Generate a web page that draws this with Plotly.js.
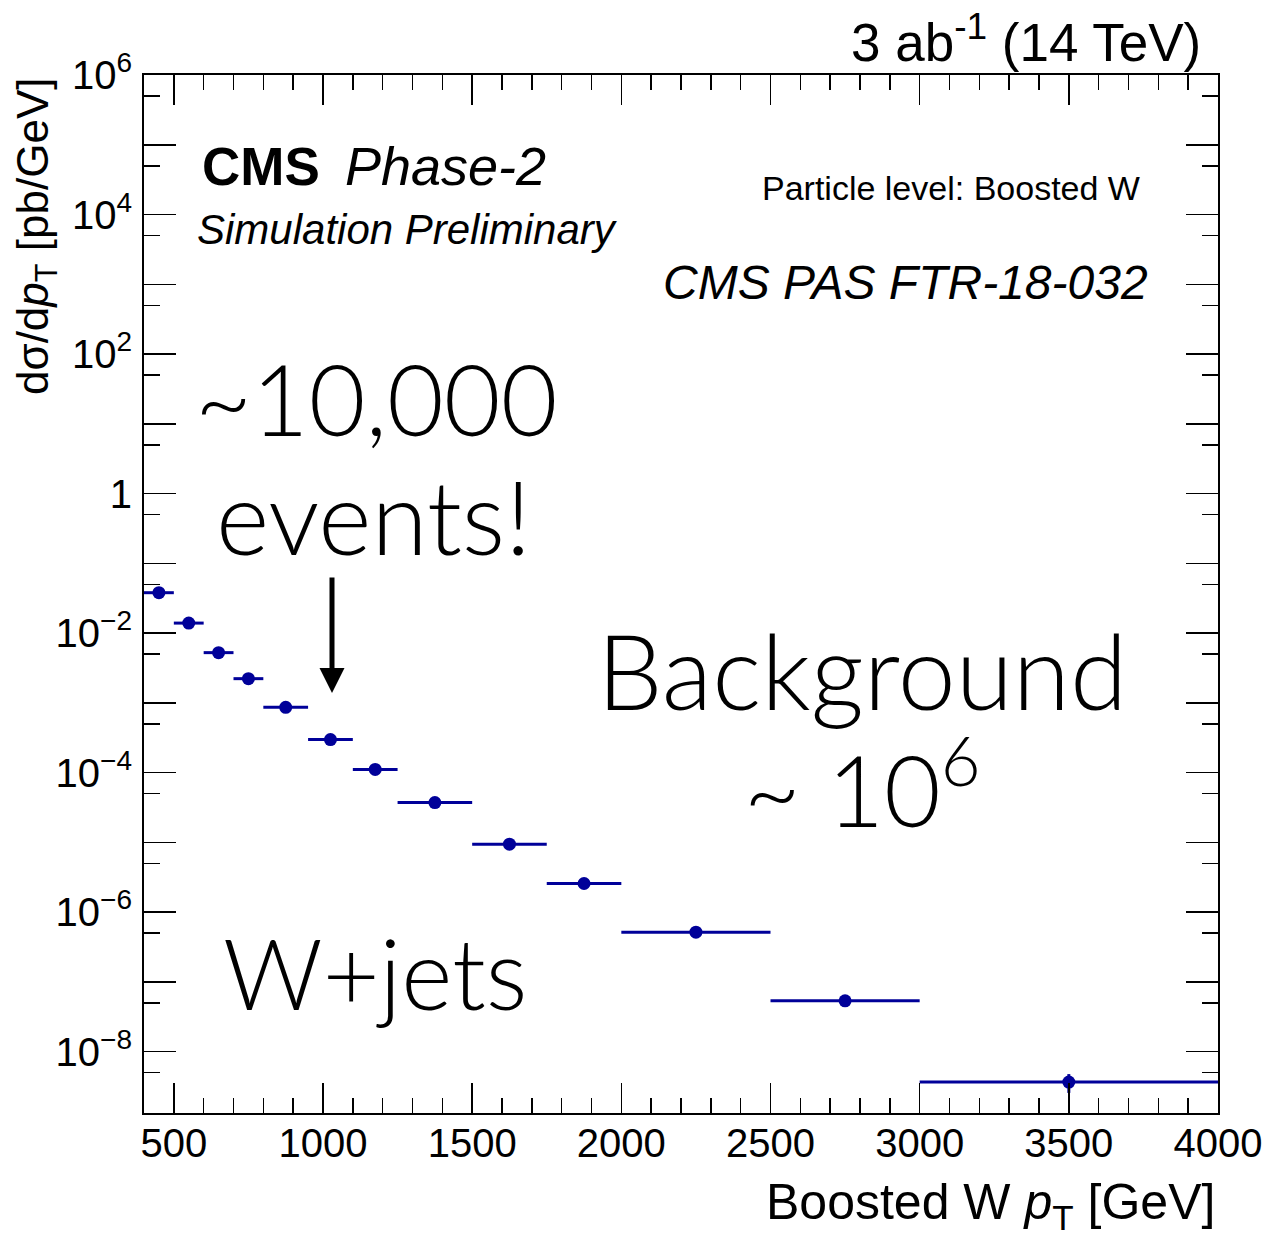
<!DOCTYPE html>
<html>
<head>
<meta charset="utf-8">
<script src="https://cdn.plot.ly/plotly-3.0.1.min.js"></script>
<style>
  html, body { margin: 0; padding: 0; background: #ffffff; }
  #plot { width: 1266px; height: 1243px; }
</style>
</head>
<body>
<div id="plot"></div>
<script>
// Particle-level boosted W pT spectrum (W+jets), HL-LHC projection
const binCenters    = [450, 550, 650, 750, 875, 1025, 1175, 1375, 1625, 1875, 2250, 2750, 3500];
const binHalfWidths = [50, 50, 50, 50, 75, 75, 75, 125, 125, 125, 250, 250, 500];
const dsigmaDpt     = [3.79e-2, 1.39e-2, 5.24e-3, 2.22e-3, 8.63e-4, 2.97e-4, 1.11e-4,
                       3.72e-5, 9.4e-6, 2.57e-6, 5.15e-7, 5.35e-8, 3.66e-9];
const dsigmaErr     = [0, 0, 0, 0, 0, 0, 0, 0, 0, 0, 0, 0, 1.1e-9];

// y-axis decades: a long tick at every decade, a label every second one
const yTickVals  = [1e-8, 1e-7, 1e-6, 1e-5, 1e-4, 1e-3, 1e-2, 1e-1, 1, 1e1, 1e2, 1e3, 1e4, 1e5, 1e6];
const yTickText  = ['10<sup>\u22128</sup>', '', '10<sup>\u22126</sup>', '', '10<sup>\u22124</sup>', '',
                    '10<sup>\u22122</sup>', '', '1', '', '10<sup>2</sup>', '', '10<sup>4</sup>', '', '10<sup>6</sup>'];
const yMinorVals = [5e-9, 5e-8, 5e-7, 5e-6, 5e-5, 5e-4, 5e-3, 5e-2, 5e-1, 5, 50, 500, 5e3, 5e4, 5e5];

const BLUE = '#000099';
const SANS = 'Liberation Sans, Arial, Helvetica, sans-serif';
const LIGHT = 'Lato, Roboto, Liberation Sans, sans-serif';

const trace = {
  type: 'scatter',
  mode: 'markers',
  x: binCenters,
  y: dsigmaDpt,
  marker: { color: BLUE, size: 13, symbol: 'circle' },
  error_x: { type: 'data', array: binHalfWidths, visible: true, color: BLUE, thickness: 3, width: 0 },
  error_y: { type: 'data', array: dsigmaErr, visible: true, color: BLUE, thickness: 3, width: 0 },
  hoverinfo: 'x+y',
  showlegend: false
};

const W = 1266, H = 1243;
const M = { l: 144, r: 48, t: 75, b: 130 };
const pw = W - M.l - M.r, ph = H - M.t - M.b;
const px = (x) => (x - M.l) / pw;   // pixel column -> paper x
const py = (y) => (H - M.b - y) / ph; // pixel row -> paper y

function txt(text, x, y, xanchor, size, opts) {
  return Object.assign({
    text: text, xref: 'paper', yref: 'paper', x: px(x), y: py(y),
    xanchor: xanchor, yanchor: 'middle', showarrow: false,
    font: { family: SANS, size: size, color: '#000000' }
  }, opts || {});
}
function big(text, x, y, size) {
  return txt(text, x, y, 'center', size, { font: { family: LIGHT, size: size, color: '#000', weight: 300 } });
}

const annotations = [
  txt('3 ab<sup>-1</sup> (14 TeV)', 1203, 38, 'right', 53),
  txt('<b>CMS</b>', 200, 166, 'left', 53),
  txt('<i>Phase-2</i>', 343, 166, 'left', 54),
  txt('<i>Simulation Preliminary</i>', 195, 229, 'left', 42),
  txt('Particle level: Boosted W', 1142, 188, 'right', 34),
  txt('<i>CMS PAS FTR-18-032</i>', 1150, 282, 'right', 48),
  big('~10,000', 376, 398, 98),
  big('events!', 373, 515, 102),
  // two-line label; base size sets the line pitch, spans set the glyph size
  big('<span style="font-size:104px">Background</span><br>' +
      '<span style="font-size:98px">~ 10<sup>6</sup></span>', 862, 727, 90),
  big('W+jets', 375, 972, 98),
  // arrow pointing at the ~1 TeV bins
  { text: '', xref: 'paper', yref: 'paper', x: px(332), y: py(693), showarrow: true,
    ax: 0, ay: -117, arrowhead: 2, arrowsize: 1, arrowwidth: 5, arrowcolor: '#000000' },
  // axis titles
  txt('Boosted W <i>p</i><sub>T</sub> [GeV]', 1217, 1205, 'right', 50),
  Object.assign(txt('d\u03c3/d<i>p</i><sub>T</sub> [pb/GeV]', 36, 75, 'center', 44),
    { yanchor: 'top', textangle: -90 })
];

const layout = {
  width: W, height: H,
  margin: M,
  paper_bgcolor: '#ffffff',
  plot_bgcolor: '#ffffff',
  showlegend: false,
  font: { family: SANS, size: 40, color: '#000000' },
  xaxis: {
    type: 'linear', range: [400, 4000],
    tickmode: 'linear', tick0: 500, dtick: 500,
    ticks: 'inside', ticklen: 30, tickwidth: 1.5, tickcolor: '#000',
    minor: { dtick: 100, tick0: 0, ticks: 'inside', ticklen: 15, tickwidth: 1.5, tickcolor: '#000' },
    showline: true, linecolor: '#000', linewidth: 2, mirror: 'ticks',
    showgrid: false, zeroline: false,
    tickfont: { family: SANS, size: 40, color: '#000' },
    ticklabelstandoff: -6
  },
  yaxis: {
    type: 'log', range: [-8.88, 6],
    tickmode: 'array', tickvals: yTickVals, ticktext: yTickText,
    ticks: 'inside', ticklen: 32, tickwidth: 1.5, tickcolor: '#000',
    minor: { tickmode: 'array', tickvals: yMinorVals, ticks: 'inside', ticklen: 16, tickwidth: 1.5, tickcolor: '#000' },
    showline: true, linecolor: '#000', linewidth: 2, mirror: 'ticks',
    showgrid: false, zeroline: false,
    tickfont: { family: SANS, size: 40, color: '#000' },
    ticklabelstandoff: 2
  },
  annotations: annotations
};

Plotly.newPlot('plot', [trace], layout, { staticPlot: true, displayModeBar: false });
</script>
</body>
</html>
